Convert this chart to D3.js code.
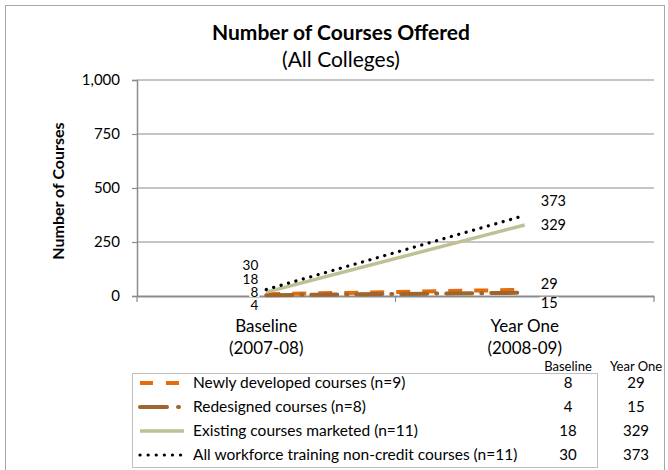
<!DOCTYPE html>
<html>
<head>
<meta charset="utf-8">
<script src="https://cdn.jsdelivr.net/npm/d3@7"></script>
<style>
  body { margin: 0; background: #fff; }
  text { font-family: Lato, "Open Sans", sans-serif; fill: #000; }
</style>
</head>
<body>
<div id="chart"></div>
<script>
const categories = ["Baseline|(2007-08)", "Year One|(2008-09)"];
const seriesNames = [
  "Newly developed courses (n=9)",
  "Redesigned courses (n=8)",
  "Existing courses marketed (n=11)",
  "All workforce training non-credit courses (n=11)"
];
const baselineValues = [8, 4, 18, 30];
const yearOneValues = [29, 15, 329, 373];
const yTicks = [0, 250, 500, 750, 1000];

// styling per series (not data)
const styles = [
  {color: "#E46C0A", width: 4, dash: "14,12", cap: "butt"},
  {color: "#A0652E", width: 4, dash: "26,9,1,9", cap: "round"},
  {color: "#BFC096", width: 3.5, dash: null, cap: "butt"},
  {color: "#000000", width: 3.2, dash: "0.1,7.6", cap: "round"}
];
// label nudges so stacked labels don't collide
const baseOff = [-2, 10, -13, -24];
const yearOff = [-6, 10, 0, -15];

const W = 668, H = 470;
const margin = {top: 80, left: 137};
const width = 654 - margin.left, height = 296 - margin.top;

const svg = d3.select("#chart").append("svg")
  .attr("width", W).attr("height", H);

svg.append("rect")
  .attr("x", 5.5).attr("y", 5.5).attr("width", 659).attr("height", 470)
  .attr("fill", "none").attr("stroke", "#a6a6a6").attr("stroke-width", 1);

svg.append("text").attr("x", 341).attr("y", 40)
  .attr("text-anchor", "middle").style("font-size", "21px").style("font-weight", "bold")
  .text("Number of Courses Offered");
svg.append("text").attr("x", 341).attr("y", 67)
  .attr("text-anchor", "middle").style("font-size", "21px")
  .text("(All Colleges)");

const g = svg.append("g").attr("transform", "translate(" + margin.left + "," + margin.top + ")");

const x = d3.scaleBand().domain(categories).range([0, width]);
const y = d3.scaleLinear().domain([0, 1000]).range([height, 0]);

// gridlines
g.selectAll(".grid").data(yTicks.slice(1)).enter().append("line")
  .attr("x1", 0).attr("x2", width)
  .attr("y1", d => y(d)).attr("y2", d => y(d))
  .attr("stroke", "#8c8c8c").attr("stroke-width", 1.2);

// y axis
const yAxis = g.append("g")
  .call(d3.axisLeft(y).tickValues(yTicks).tickSize(5).tickPadding(12).tickFormat(d3.format(",")));
yAxis.select(".domain").attr("stroke", "#8c8c8c").attr("stroke-width", 1.5);
yAxis.selectAll(".tick line").attr("stroke", "#8c8c8c").attr("stroke-width", 1.2);
yAxis.selectAll(".tick text").style("font-size", "15px").style("font-family", "Lato");

// x axis
const xAxis = g.append("g").attr("transform", "translate(0," + height + ")")
  .call(d3.axisBottom(x).tickSize(0).tickFormat(""));
xAxis.select(".domain").attr("stroke", "#8c8c8c").attr("stroke-width", 2);
g.selectAll(".xtick").data([0, x.bandwidth(), width]).enter().append("line")
  .attr("x1", d => d).attr("x2", d => d).attr("y1", height).attr("y2", height + 6)
  .attr("stroke", "#8c8c8c").attr("stroke-width", 1.2);
categories.forEach(c => {
  const parts = c.split("|");
  parts.forEach((p, i) => {
    g.append("text").attr("x", x(c) + x.bandwidth() / 2).attr("y", height + 36 + i * 22)
      .attr("text-anchor", "middle").style("font-size", "17px").text(p);
  });
});

// y title
svg.append("text")
  .attr("transform", "translate(64,191) rotate(-90)")
  .attr("text-anchor", "middle").style("font-size", "16px").style("font-weight", "bold")
  .text("Number of Courses");

const cx = c => x(c) + x.bandwidth() / 2;

// lines
seriesNames.forEach((name, i) => {
  const pts = [[cx(categories[0]), y(baselineValues[i])], [cx(categories[1]), y(yearOneValues[i])]];
  const p = g.append("path").attr("d", d3.line()(pts))
    .attr("fill", "none").attr("stroke", styles[i].color)
    .attr("stroke-width", styles[i].width).attr("stroke-linecap", styles[i].cap);
  if (styles[i].dash) p.attr("stroke-dasharray", styles[i].dash);
});

// data labels
function addLabel(xp, yp, txt, anchor, size) {
  const t = g.append("text").attr("x", xp).attr("y", yp).attr("dy", "0.35em")
    .attr("text-anchor", anchor).style("font-size", size).text(txt);
  const b = t.node().getBBox();
  g.insert("rect", () => t.node())
    .attr("x", b.x - 1).attr("y", b.y + 3).attr("width", b.width + 2).attr("height", b.height - 6)
    .attr("fill", "#fff");
}
seriesNames.forEach((name, i) => {
  addLabel(cx(categories[0]) - 8, y(baselineValues[i]) + baseOff[i], baselineValues[i], "end", "13.5px");
  addLabel(cx(categories[1]) + 16, y(yearOneValues[i]) + yearOff[i], yearOneValues[i], "start", "14.5px");
});

// legend
const lg = svg.append("g");
lg.append("rect").attr("x", 132.5).attr("y", 373.5).attr("width", 465).attr("height", 94)
  .attr("fill", "#fff").attr("stroke", "#bfbfbf");
const rowY = [383, 407, 431, 455];
lg.append("text").attr("x", 568).attr("y", 366).attr("dy", "0.35em").attr("text-anchor", "middle")
  .style("font-size", "13px").text("Baseline");
lg.append("text").attr("x", 636).attr("y", 366).attr("dy", "0.35em").attr("text-anchor", "middle")
  .style("font-size", "13px").text("Year One");
seriesNames.forEach((name, i) => {
  const l = lg.append("line").attr("x1", 140).attr("x2", 184).attr("y1", rowY[i]).attr("y2", rowY[i])
    .attr("stroke", styles[i].color).attr("stroke-width", styles[i].width)
    .attr("stroke-linecap", styles[i].cap);
  if (i === 0) l.attr("stroke-dasharray", "13,13");
  else if (i === 1) l.attr("stroke-dasharray", "27,11,1,10");
  else if (i === 3) l.attr("stroke-dasharray", "0.1,8");
  lg.append("text").attr("x", 193).attr("y", rowY[i]).attr("dy", "0.35em")
    .style("font-size", "15.5px").text(name);
  lg.append("text").attr("x", 568).attr("y", rowY[i]).attr("dy", "0.35em").attr("text-anchor", "middle")
    .style("font-size", "15px").text(baselineValues[i]);
  lg.append("text").attr("x", 636).attr("y", rowY[i]).attr("dy", "0.35em").attr("text-anchor", "middle")
    .style("font-size", "15px").text(yearOneValues[i]);
});
</script>
</body>
</html>
